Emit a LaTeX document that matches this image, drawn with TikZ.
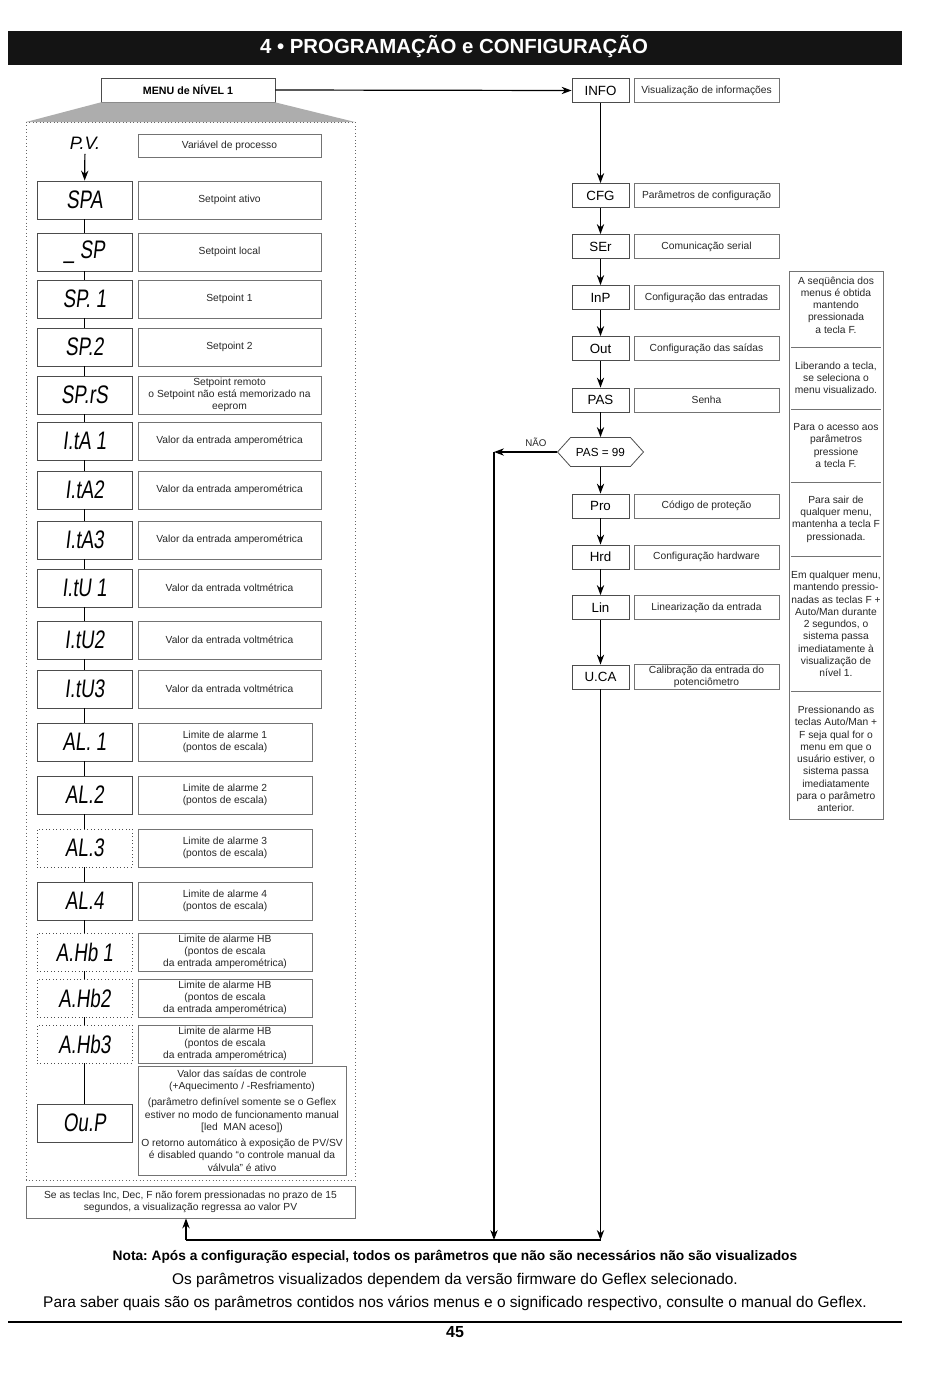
\documentclass[tikz,border=0pt]{standalone}
\usepackage{fontspec}
\setmainfont{Liberation Sans}
\newfontfamily\segfont[FakeSlant=0.12,FakeStretch=0.74]{Liberation Sans}
\usetikzlibrary{arrows.meta,shapes.symbols}
\frenchspacing

\begin{document}
\begin{tikzpicture}[x=0.75pt,y=0.75pt,yscale=-1,xscale=1,
    box/.style={draw=black!55,line width=0.6pt,inner sep=1pt,align=center,text=black!85,font=\fontsize{7.7}{9.2}\selectfont},
    segbox/.style={box,draw=black!70,minimum width=71.25pt,minimum height=28.5pt,font=\segfont\fontsize{19}{19}\selectfont,text=black},
    segdot/.style={segbox,dotted},
    descwide/.style={box,minimum width=137.25pt,minimum height=28.5pt},
    descnarrow/.style={box,minimum width=130.5pt,minimum height=28.5pt},
    codebox/.style={box,draw=black!70,minimum width=42.75pt,minimum height=18pt,font=\fontsize{10}{12}\selectfont,text=black},
    codedesc/.style={box,minimum width=108.75pt,minimum height=18pt},
    note/.style={align=center,text=black!85,font=\fontsize{7.7}{9.2}\selectfont},
    link/.style={line width=0.9pt},
    flow/.style={link,-{Stealth[length=7.5pt,width=5.5pt]}}
  ]
  \useasboundingbox (0,0) rectangle (950,1374);

  % title bar
  \fill[black!92] (8,31) rectangle (902,65);
  \node[text=white,font=\bfseries\fontsize{15.3}{18}\selectfont] (title) at (454,47) {4 • PROGRAMAÇÃO e CONFIGURAÇÃO};

  % menu de nivel 1
  \node[box,draw=black!70,minimum width=130.5pt,minimum height=18pt,font=\bfseries\fontsize{8}{9}\selectfont,text=black] (menu) at (188,90) {MENU de NÍVEL 1};
  \fill[black!32] (menu.south west) -- (menu.south east) -- (355,122) -- (26,122) -- cycle;
  \draw[dotted,black!60,line width=0.6pt] (26,122) rectangle (355,1180);

  \node[font=\itshape\fontsize{13.5}{13.5}\selectfont] (pv) at (85,143) {P.V.};
  \node[box,minimum width=137.25pt,minimum height=17.25pt] (dpv) at (229.5,145.5) {Variável de processo};

  % left column
  \foreach \y/\seg/\sty/\txt [count=\i] in {
    200/SPA/segbox/{Setpoint ativo},
    252/{\_\ SP}/segbox/{Setpoint local},
    299/{SP.\ 1}/segbox/{Setpoint 1},
    347/SP.2/segbox/{Setpoint 2},
    395/SP.rS/segbox/{Setpoint remoto\\o Setpoint não está memorizado na\\eeprom},
    441/{I.tA\ 1}/segbox/{Valor da entrada amperométrica},
    490/I.tA2/segbox/{Valor da entrada amperométrica},
    540/I.tA3/segbox/{Valor da entrada amperométrica},
    588/{I.tU\ 1}/segbox/{Valor da entrada voltmétrica},
    640/I.tU2/segbox/{Valor da entrada voltmétrica},
    689/I.tU3/segbox/{Valor da entrada voltmétrica}}{
    \node[\sty] (s\i) at (84.5,\y) {\seg};
    \node[descwide] (d\i) at (229.5,\y) {\txt};
  }
  \foreach \y/\seg/\sty/\txt [count=\i from 12] in {
    742/{AL.\ 1}/segbox/{Limite de alarme 1\\(pontos de escala)},
    795/AL.2/segbox/{Limite de alarme 2\\(pontos de escala)},
    848/AL.3/segdot/{Limite de alarme 3\\(pontos de escala)},
    901/AL.4/segbox/{Limite de alarme 4\\(pontos de escala)},
    952/{A.Hb\ 1}/segdot/{Limite de alarme HB\\(pontos de escala\\da entrada amperométrica)},
    998/A.Hb2/segdot/{Limite de alarme HB\\(pontos de escala\\da entrada amperométrica)},
    1044/A.Hb3/segdot/{Limite de alarme HB\\(pontos de escala\\da entrada amperométrica)}}{
    \node[\sty] (s\i) at (84.5,\y) {\seg};
    \node[descnarrow] (d\i) at (225,\y) {\txt};
  }
  \node[segbox] (s19) at (84.5,1123) {Ou.P};
  \node[box,minimum width=156pt,minimum height=81.75pt] (d19) at (242,1120.5) {Valor das saídas de controle\\(+Aquecimento / -Resfriamento)\\[3pt](parâmetro definível somente se o Geflex\\estiver no modo de funcionamento manual\\{[}led\ \ MAN aceso{]})\\[3pt]O retorno automático à exposição de PV/SV\\é disabled quando ``o controle manual da\\válvula'' é ativo};

  \draw[flow] (pv) -- (s1);
  \foreach \i in {2,...,19}{
    \pgfmathtruncatemacro\j{\i-1}
    \draw[link] (s\j.south) -- (s\i.north);
  }

  \node[box,minimum width=246.75pt,minimum height=24pt] (back) at (190.5,1202) {Se as teclas Inc, Dec, F não forem pressionadas no prazo de 15\\segundos, a visualização regressa ao valor PV};

  % right column
  \foreach \y/\code/\txt [count=\i] in {
    90.5/INFO/{Visualização de informações},
    195.5/CFG/{Parâmetros de configuração},
    246.5/SEr/{Comunicação serial},
    297.5/InP/{Configuração das entradas},
    348.5/Out/{Configuração das saídas},
    400/PAS/{Senha},
    506/Pro/{Código de proteção},
    557/Hrd/{Configuração hardware},
    607.5/Lin/{Linearização da entrada},
    677/U.CA/{Calibração da entrada do\\potenciômetro}}{
    \node[codebox] (r\i) at (600.5,\y) {\code};
    \node[codedesc] (t\i) at (706.5,\y) {\txt};
  }
  \node[box,draw=black!70,shape=signal,signal to=east and west,signal pointer angle=96,minimum width=64.5pt,minimum height=21.75pt,font=\fontsize{8.8}{10}\selectfont,text=black] (pas) at (600.5,452) {PAS = 99};

  \draw[flow] (menu.east) -- (r1.west);
  \foreach \i in {2,...,6}{
    \pgfmathtruncatemacro\j{\i-1}
    \draw[flow] (r\j.south) -- (r\i.north);
  }
  \draw[flow] (r6.south) -- (pas.north);
  \draw[flow] (pas.south) -- (r7.north);
  \foreach \i in {8,9,10}{
    \pgfmathtruncatemacro\j{\i-1}
    \draw[flow] (r\j.south) -- (r\i.north);
  }

  % return paths
  \coordinate (nao) at (494,452);
  \coordinate (retn) at (494,1240);
  \coordinate (retr) at (r10.south |- retn);
  \coordinate (retl) at (186,1240);
  \node[note,font=\fontsize{7.3}{8}\selectfont] (naolbl) at (536,442) {NÃO};
  \draw[flow] (pas.west) -- (nao);
  \draw[flow] (nao) -- (retn);
  \draw[flow] (r10.south) -- (retr);
  \draw[link] (retl) -- (retr);
  \draw[flow] (retl) -- (retl |- back.south);

  % notes column
  \draw[black!55,line width=0.6pt] (789,271) rectangle (883,819);
  \foreach \y in {347,409,482,556,691}
    \draw[black!55,line width=0.6pt] (791,\y) -- (881,\y);
  \node[note] (n1) at (836,305) {A seqüência dos\\menus é obtida\\mantendo\\pressionada\\a tecla F.};
  \node[note] (n2) at (836,378) {Liberando a tecla,\\se seleciona o\\menu visualizado.};
  \node[note] (n3) at (836,445.5) {Para o acesso aos\\parâmetros\\pressione\\a tecla F.};
  \node[note] (n4) at (836,519) {Para sair de\\qualquer menu,\\mantenha a tecla F\\pressionada.};
  \node[note] (n5) at (836,624) {Em qualquer menu,\\mantendo pressio-\\nadas as teclas F +\\Auto/Man durante\\2 segundos, o\\sistema passa\\imediatamente à\\visualização de\\nível 1.};
  \node[note] (n6) at (836,759) {Pressionando as\\teclas Auto/Man +\\F seja qual for o\\menu em que o\\usuário estiver, o\\sistema passa\\imediatamente\\para o parâmetro\\anterior.};

  % footer
  \node[font=\bfseries\fontsize{10.3}{12}\selectfont] (nota) at (455,1257) {Nota: Após a configuração especial, todos os parâmetros que não são necessários não são visualizados};
  \node[font=\fontsize{11.6}{13}\selectfont] (vers) at (455,1280) {Os parâmetros visualizados dependem da versão firmware do Geflex selecionado.};
  \node[font=\fontsize{11.6}{13}\selectfont] (saber) at (455,1303) {Para saber quais são os parâmetros contidos nos vários menus e o significado respectivo, consulte o manual do Geflex.};
  \draw[line width=1.4pt] (8,1322) -- (902,1322);
  \node[font=\bfseries\fontsize{12}{14}\selectfont] (page) at (455,1332) {45};
\end{tikzpicture}
\end{document}
